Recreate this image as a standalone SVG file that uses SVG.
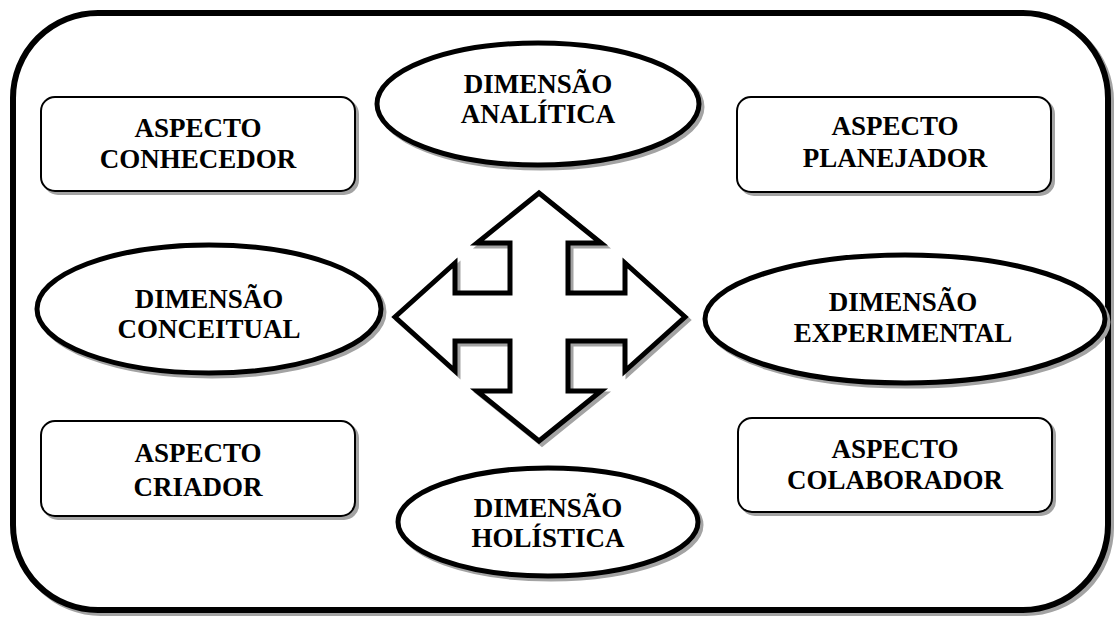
<svg xmlns="http://www.w3.org/2000/svg" width="1114" height="618" viewBox="0 0 1114 618">
<style>
.sh{fill:#a3a3a3;stroke:#a3a3a3}
.box{fill:#fff;stroke:#000;stroke-width:2}
.ell{fill:#fff;stroke:#000;stroke-width:5}
.t{font-family:"Liberation Serif","Times New Roman","DejaVu Serif",serif;font-weight:bold;font-size:27px;text-anchor:middle;fill:#000}
</style>
<rect width="1114" height="618" fill="#fff"/>
<g id="frame">
<rect class="sh" x="16" y="16" width="1095" height="597" rx="85" stroke-width="6"/>
<rect x="13" y="13" width="1095" height="597" rx="85" fill="#fff" stroke="#000" stroke-width="6"/>
</g>
<g id="connectors">
<polygon class="sh" stroke-width="5" transform="translate(3,3)" points="539,193 601,243 568,243 568,293 625,293 625,263 685,317 625,371 625,341 568,341 568,391 601,391 539,441 477,391 510,391 510,341 455,341 455,371 395,317 455,263 455,293 510,293 510,243 477,243"/>
<polygon fill="#fff" stroke="#000" stroke-width="5" stroke-linejoin="miter" points="539,193 601,243 568,243 568,293 625,293 625,263 685,317 625,371 625,341 568,341 568,391 601,391 539,441 477,391 510,391 510,341 455,341 455,371 395,317 455,263 455,293 510,293 510,243 477,243"/>
</g>
<g id="aspecto-conhecedor">
<rect class="sh" x="44" y="100" width="314" height="94" rx="14" stroke-width="2"/>
<rect class="box" x="41" y="97" width="314" height="94" rx="14"/>
<text class="t" x="198" y="137">ASPECTO</text>
<text class="t" x="198" y="168">CONHECEDOR</text>
</g>
<g id="aspecto-planejador">
<rect class="sh" x="740" y="100" width="314" height="95" rx="14" stroke-width="2"/>
<rect class="box" x="737" y="97" width="314" height="95" rx="14"/>
<text class="t" x="895" y="135">ASPECTO</text>
<text class="t" x="895" y="167">PLANEJADOR</text>
</g>
<g id="aspecto-criador">
<rect class="sh" x="44" y="424" width="314" height="95" rx="14" stroke-width="2"/>
<rect class="box" x="41" y="421" width="314" height="95" rx="14"/>
<text class="t" x="198" y="462">ASPECTO</text>
<text class="t" x="198" y="496">CRIADOR</text>
</g>
<g id="aspecto-colaborador">
<rect class="sh" x="741" y="421" width="314" height="94" rx="14" stroke-width="2"/>
<rect class="box" x="738" y="418" width="314" height="94" rx="14"/>
<text class="t" x="895" y="458">ASPECTO</text>
<text class="t" x="895" y="489">COLABORADOR</text>
</g>
<g id="dimensao-analitica">
<ellipse class="sh" cx="541" cy="107" rx="161" ry="61" stroke-width="5"/>
<ellipse class="ell" cx="538" cy="104" rx="161" ry="61"/>
<text class="t" x="538" y="93">DIMENSÃO</text>
<text class="t" x="538" y="123">ANALÍTICA</text>
</g>
<g id="dimensao-conceitual">
<ellipse class="sh" cx="212" cy="312" rx="172" ry="64" stroke-width="5"/>
<ellipse class="ell" cx="209" cy="309" rx="172" ry="64"/>
<text class="t" x="209" y="308">DIMENSÃO</text>
<text class="t" x="209" y="338">CONCEITUAL</text>
</g>
<g id="dimensao-experimental">
<ellipse class="sh" cx="908" cy="322" rx="200" ry="64" stroke-width="5"/>
<ellipse class="ell" cx="905" cy="319" rx="200" ry="64"/>
<text class="t" x="903" y="311">DIMENSÃO</text>
<text class="t" x="903" y="342">EXPERIMENTAL</text>
</g>
<g id="dimensao-holistica">
<ellipse class="sh" cx="551" cy="525" rx="150" ry="54" stroke-width="5"/>
<ellipse class="ell" cx="548" cy="522" rx="150" ry="54"/>
<text class="t" x="548" y="517">DIMENSÃO</text>
<text class="t" x="548" y="547">HOLÍSTICA</text>
</g>
</svg>
